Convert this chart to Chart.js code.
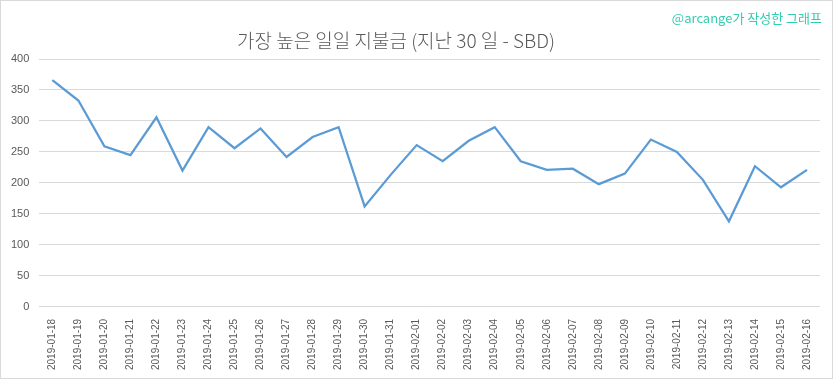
<!DOCTYPE html>
<html>
<head>
<meta charset="utf-8">
<script src="https://cdn.jsdelivr.net/npm/chart.js@4"></script>
<style>
    html, body { margin: 0; padding: 0; background: #fff; }
    #frame {
        position: relative;
        width: 833px;
        height: 379px;
        box-sizing: border-box;
        border: 1px solid #d9d9d9;
    }
    #wrap { position: absolute; left: 0; top: 0; width: 831px; height: 377px; }
    #title {
        position: absolute;
        left: 0;
        top: 27px;
        width: 790px;
        text-align: center;
        line-height: 24px;
        font-family: "Noto Sans CJK KR", sans-serif;
        font-weight: 300;
        font-size: 19px;
        color: #595959;
    }
    #credit {
        position: absolute;
        right: 10px;
        top: 7px;
        font-family: "Noto Sans CJK KR", "Noto Sans", sans-serif;
        font-size: 13px;
        color: #33cdb0;
    }
</style>
</head>
<body>
<div id="frame">
    <div id="wrap"><canvas id="payoutChart"></canvas></div>
    <div id="title"></div>
    <div id="credit">@arcange가 작성한 그래프</div>
</div>
<script>
// Chart data
const chartTitle = '가장 높은 일일 지불금 (지난 30 일 - SBD)';
const dates = [
    '2019-01-18', '2019-01-19', '2019-01-20', '2019-01-21', '2019-01-22',
    '2019-01-23', '2019-01-24', '2019-01-25', '2019-01-26', '2019-01-27',
    '2019-01-28', '2019-01-29', '2019-01-30', '2019-01-31', '2019-02-01',
    '2019-02-02', '2019-02-03', '2019-02-04', '2019-02-05', '2019-02-06',
    '2019-02-07', '2019-02-08', '2019-02-09', '2019-02-10', '2019-02-11',
    '2019-02-12', '2019-02-13', '2019-02-14', '2019-02-15', '2019-02-16'
];
const payouts = [
    366, 333, 259, 245, 306,
    220, 290, 256, 288, 242,
    274, 290, 162, 213, 261,
    235, 268, 290, 235, 221,
    223, 198, 215, 270, 250,
    205, 138, 227, 193, 221
];

const textColor = '#595959';
const gridColor = '#d9d9d9';

document.getElementById('title').textContent = chartTitle;

const ctx = document.getElementById('payoutChart').getContext('2d');
const payoutChart = new Chart(ctx, {
    type: 'line',
    data: {
        labels: dates,
        datasets: [{
            label: 'SBD',
            data: payouts,
            borderColor: '#5b9bd5',
            borderWidth: 2.25,
            pointRadius: 0,
            fill: false,
            tension: 0
        }]
    },
    options: {
        responsive: true,
        maintainAspectRatio: false,
        animation: false,
        layout: {
            padding: { left: 0, right: 12, top: 58, bottom: 4 }
        },
        plugins: {
            legend: { display: false },
            tooltip: { enabled: false },
            title: { display: false }
        },
        scales: {
            x: {
                offset: true,
                grid: { display: false },
                border: { display: false },
                ticks: {
                    color: textColor,
                    font: { family: '"Liberation Sans", Arial, sans-serif', size: 10 },
                    maxRotation: 90,
                    minRotation: 90,
                    autoSkip: false,
                    padding: 4
                }
            },
            y: {
                min: 0,
                max: 400,
                border: { display: false },
                grid: { color: gridColor, drawTicks: false },
                ticks: {
                    stepSize: 50,
                    color: textColor,
                    font: { family: '"Liberation Sans", Arial, sans-serif', size: 11 },
                    padding: 10
                }
            }
        }
    }
});
</script>
</body>
</html>
